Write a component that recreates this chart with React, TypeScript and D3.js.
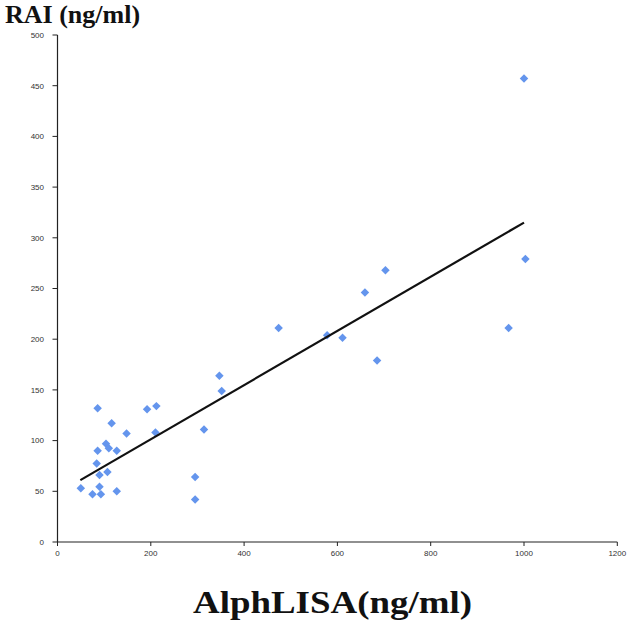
import React from "react";
import * as d3 from "d3";

const alphaLisa = [50, 75, 93, 90, 127, 90, 107, 84, 86, 127, 104, 110, 116, 148, 86, 192, 212, 210, 295, 295, 314, 352, 347, 474, 578, 611, 659, 703, 685, 967, 1003, 1000];
const rai = [53, 47, 47, 54.5, 50, 66, 69, 77.5, 90, 90, 97, 92.5, 117, 107, 132, 131, 134, 108, 64, 42, 111, 149, 164, 211, 204, 201.5, 246, 268, 179, 211, 279, 457];
const trendX = [49, 1000];
const trendY = [61, 315];
const xTicks = [0, 200, 400, 600, 800, 1000, 1200];
const yTicks = [0, 50, 100, 150, 200, 250, 300, 350, 400, 450, 500];

export default function App() {
  const x = d3.scaleLinear().domain([0, 1200]).range([57.5, 617.3]);
  const y = d3.scaleLinear().domain([0, 500]).range([542, 35]);
  const diamond = d3.symbol().type(d3.symbolSquare).size(36)() as string;
  const line = d3
    .line<number>()
    .x((_, i) => x(trendX[i]))
    .y((d) => y(d));
  return (
    <svg
      width={633}
      height={628}
      style={{ position: "absolute", left: 0, top: 0, background: "#fff" }}
    >
      <rect width={633} height={628} fill="#fff" />
      <text x={5} y={23} fontFamily="Liberation Serif" fontWeight="bold" fontSize={26} fill="#111">
        RAI (ng/ml)
      </text>
      {/* axes */}
      <line x1={x(0)} x2={x(1200)} y1={y(0)} y2={y(0)} stroke="#222" strokeWidth={1.2} />
      <line x1={x(0)} x2={x(0)} y1={y(0)} y2={y(500)} stroke="#222" strokeWidth={1.2} />
      {yTicks.map((t) => (
        <g key={"y" + t}>
          <line x1={x(0) - 5} x2={x(0)} y1={y(t)} y2={y(t)} stroke="#222" strokeWidth={1} />
          <text x={44} y={y(t)} dy="0.35em" textAnchor="end" fontFamily="Liberation Sans" fontSize={8} fill="#333">
            {t}
          </text>
        </g>
      ))}
      {xTicks.map((t) => (
        <g key={"x" + t}>
          <line x1={x(t)} x2={x(t)} y1={y(0)} y2={y(0) + 4} stroke="#222" strokeWidth={1} />
          <text x={x(t)} y={556} textAnchor="middle" fontFamily="Liberation Sans" fontSize={8} fill="#333">
            {t}
          </text>
        </g>
      ))}
      {alphaLisa.map((v, i) => (
        <path
          key={"p" + i}
          d={diamond}
          transform={`translate(${x(v)},${y(rai[i])}) rotate(45)`}
          fill="#6495ED"
        />
      ))}
      <path d={line(trendY) as string} fill="none" stroke="#111" strokeWidth={2.2} />
      <text
        x={193}
        y={613}
        fontFamily="Liberation Serif"
        fontWeight="bold"
        fontSize={32}
        textLength={279}
        lengthAdjust="spacingAndGlyphs"
        fill="#111"
      >
        AlphLISA(ng/ml)
      </text>
    </svg>
  );
}
